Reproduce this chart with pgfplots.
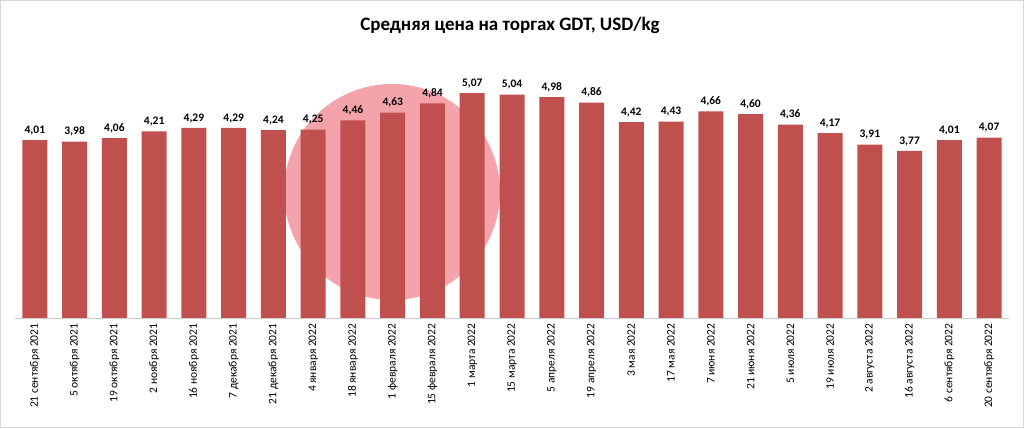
\documentclass[border=0pt]{standalone}
\usepackage{pgfplots}
\pgfplotsset{compat=1.18}
\usepackage{fontspec}
\setmainfont{Carlito}
\definecolor{barred}{HTML}{C0504D}
\definecolor{wm}{HTML}{F5A3AB}
\begin{document}
\begin{tikzpicture}[x=1pt,y=1pt]
\draw[gray!30,line width=1pt] (0.5,0.5) rectangle (1023.5,427.5);
\fill[wm] (392,236) circle (108);
\node[font=\bfseries\fontsize{19}{22}\selectfont] at (510,403) {Средняя цена на торгах GDT, USD/kg};
\begin{axis}[
  at={(15pt,110pt)}, anchor=south west,
  scale only axis, width=994pt, height=266pt,
  xmin=-0.5, xmax=24.5, ymin=0, ymax=6,
  axis y line=none, axis x line*=bottom,
  x axis line style={gray!40, line width=0.8pt, -},
  xtick=data, major tick length=0pt,
  xticklabels={21 сентября 2021,5 октября 2021,19 октября 2021,2 ноября 2021,16 ноября 2021,7 декабря 2021,21 декабря 2021,4 января 2022,18 января 2022,1 февраля 2022,15 февраля 2022,1 марта 2022,15 марта 2022,5 апреля 2022,19 апреля 2022,3 мая 2022,17 мая 2022,7 июня 2022,21 июня 2022,5 июля 2022,19 июля 2022,2 августа 2022,16 августа 2022,6 сентября 2022,20 сентября 2022},
  xticklabel style={rotate=90, anchor=east, font=\fontsize{11.5}{12}\selectfont, xshift=-2pt},
  ybar, bar width=25pt,
  nodes near coords={\pgfmathprintnumber[fixed,fixed zerofill,precision=2,use comma,assume math mode=true]{\pgfplotspointmeta}},
  nodes near coords style={font=\bfseries\fontsize{11.5}{13}\selectfont, black, inner sep=1pt, yshift=4pt},
  clip=false,
]
\addplot[fill=barred, draw=none] coordinates {
(0,4.01)(1,3.98)(2,4.06)(3,4.21)(4,4.29)(5,4.29)(6,4.24)(7,4.25)(8,4.46)(9,4.63)
(10,4.84)(11,5.07)(12,5.04)(13,4.98)(14,4.86)(15,4.42)(16,4.43)(17,4.66)(18,4.60)
(19,4.36)(20,4.17)(21,3.91)(22,3.77)(23,4.01)(24,4.07)};
\end{axis}
\end{tikzpicture}
\end{document}
